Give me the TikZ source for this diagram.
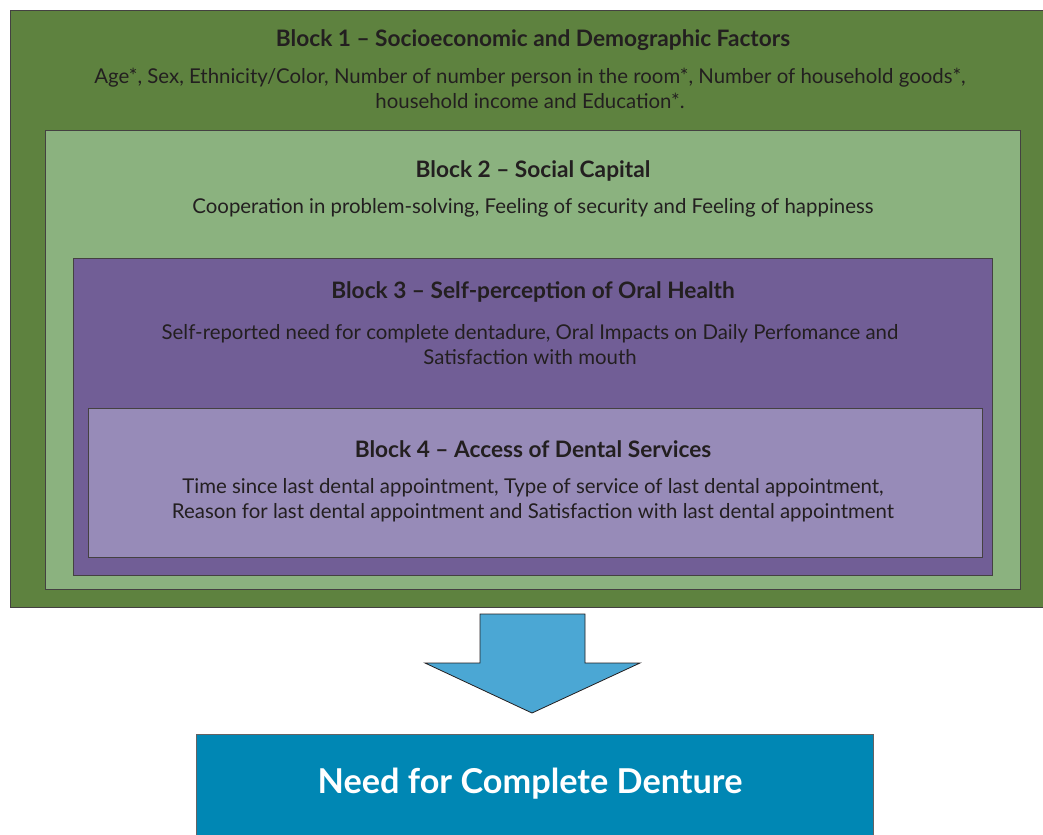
\documentclass[tikz,border=0pt]{standalone}
\usepackage{fontspec}
\setmainfont{Lato}
\definecolor{bOne}{HTML}{5E823F}
\definecolor{bTwo}{HTML}{8BB27F}
\definecolor{bThree}{HTML}{715E96}
\definecolor{bFour}{HTML}{978BB8}
\definecolor{arrowblue}{HTML}{4BA7D4}
\definecolor{outbox}{HTML}{0087B4}
\definecolor{ink}{HTML}{231F20}
\begin{document}
\begin{tikzpicture}[x=0.75pt,y=-0.75pt,
  blockbox/.style={draw=ink!85, line width=0.9pt, anchor=north west, inner sep=0pt},
  titletext/.style={font=\fontsize{17pt}{20pt}\selectfont\bfseries, text=ink, inner sep=0pt},
  bodytext/.style={font=\fontsize{15.3pt}{18.75pt}\selectfont, text=ink, align=center, inner sep=0pt}]
\useasboundingbox (0,0) rectangle (1043,835);
\fill[white] (0,0) rectangle (1043,835);

% nested blocks
\node[blockbox, fill=bOne, minimum width=1040*0.75pt, minimum height=597*0.75pt] (b1) at (10,10) {};
\node[blockbox, fill=bTwo, minimum width=975*0.75pt, minimum height=459*0.75pt] (b2) at (45,130) {};
\node[blockbox, fill=bThree, minimum width=919*0.75pt, minimum height=317*0.75pt] (b3) at (73,258) {};
\node[blockbox, fill=bFour, minimum width=894*0.75pt, minimum height=149*0.75pt] (b4) at (88,408) {};

% block texts
\node[titletext] (t1) at (533,40) {Block 1 – Socioeconomic and Demographic Factors};
\node[bodytext] (d1) at (530,88.5) {Age*, Sex, Ethnicity/Color, Number of number person in the room*, Number of household goods*,\\household income and Education*.};
\node[titletext] (t2) at (533,171) {Block 2 – Social Capital};
\node[bodytext] (d2) at (533,208) {Cooperation in problem-solving, Feeling of security and Feeling of happiness};
\node[titletext] (t3) at (533,292) {Block 3 – Self-perception of Oral Health};
\node[bodytext] (d3) at (530,345) {Self-reported need for complete dentadure, Oral Impacts on Daily Perfomance and\\Satisfaction with mouth};
\node[titletext] (t4) at (533,449) {Block 4 – Access of Dental Services};
\node[bodytext] (d4) at (533,500.5) {Time since last dental appointment, Type of service of last dental appointment,\\Reason for last dental appointment and Satisfaction with last dental appointment};

% outcome box
\node[draw=ink!70, line width=0.6pt, fill=outbox, anchor=north west, inner sep=0pt,
      minimum width=677*0.75pt, minimum height=110*0.75pt] (out) at (196,734) {};
\node[font=\fontsize{25.7pt}{30pt}\selectfont\bfseries, text=white, inner sep=0pt] (outt) at (530,784) {Need for Complete Denture};

% block arrow pointing down to the outcome
\draw[draw=ink, line width=0.6pt, fill=arrowblue]
  (480,614) -- (585,614) -- (585,663) -- (640,663) -- (532,713) -- (425,663) -- (480,663) -- cycle;
\end{tikzpicture}
\end{document}
